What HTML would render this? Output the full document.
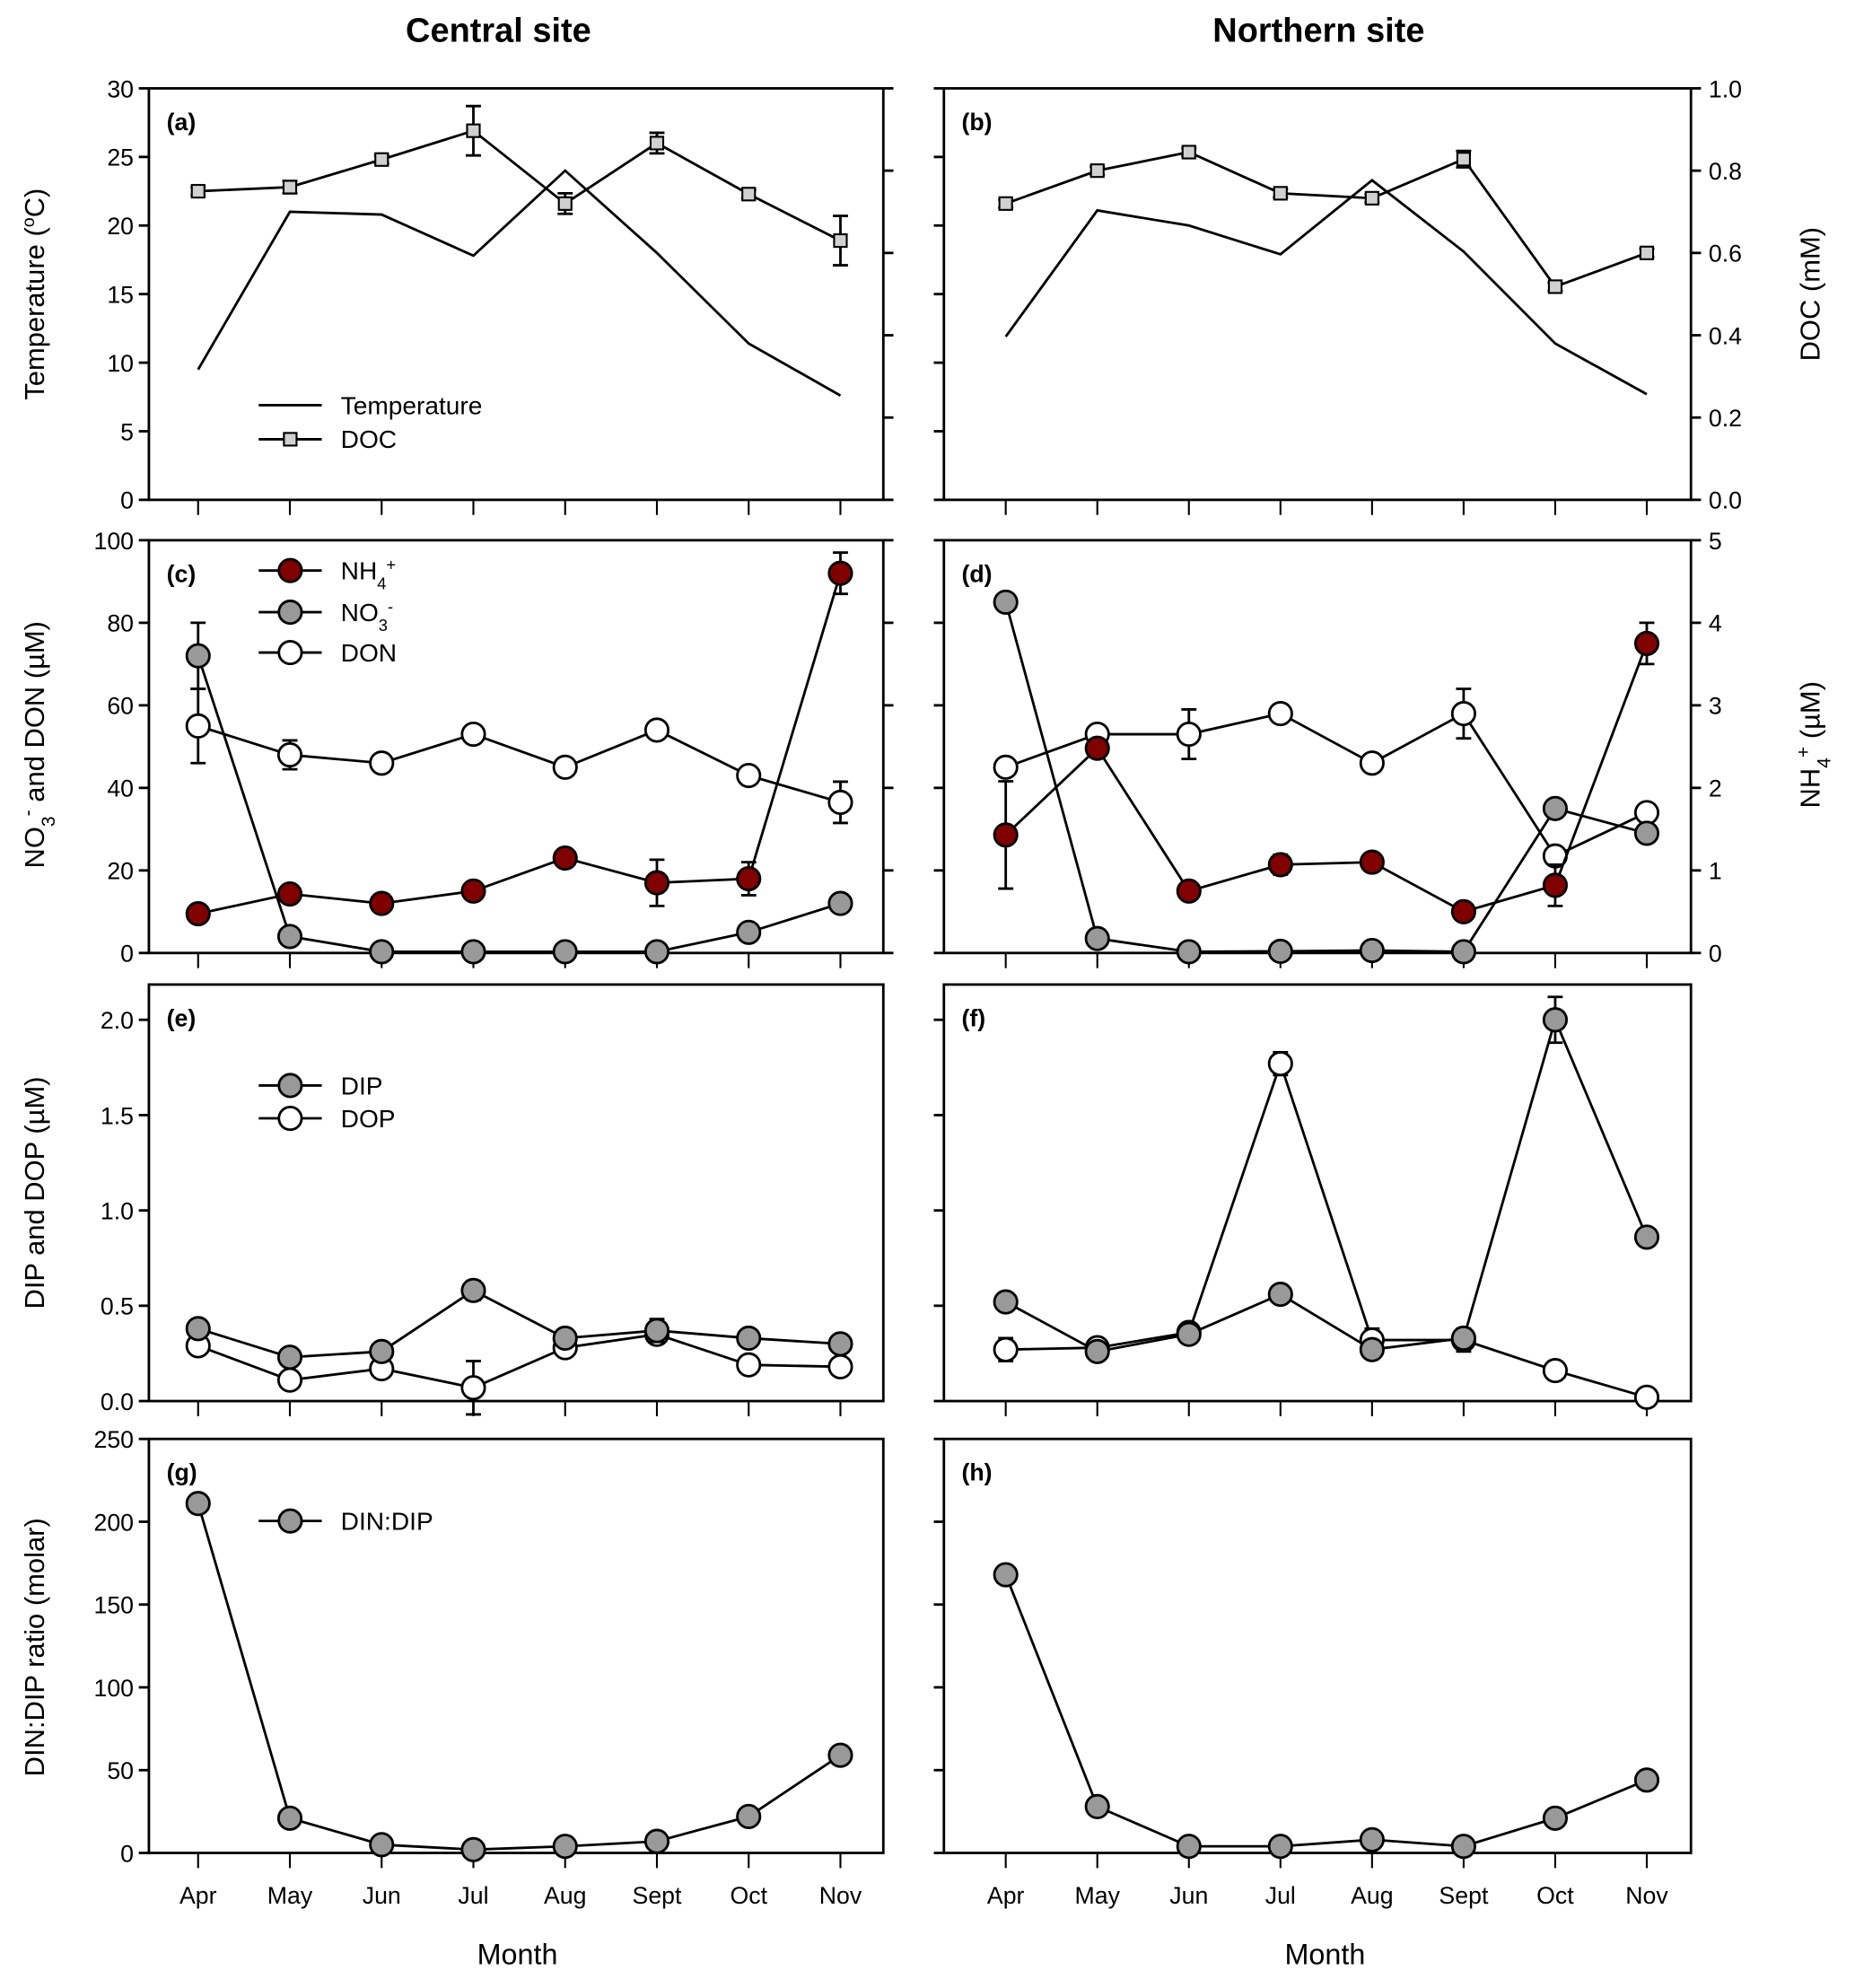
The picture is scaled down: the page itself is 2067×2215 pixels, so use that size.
<!DOCTYPE html>
<html><head><meta charset="utf-8"><style>
html,body{margin:0;padding:0;background:#fff}
svg{display:block}
text{font-family:"Liberation Sans",Arial,sans-serif;fill:#000}
</style></head><body>
<svg id="chart" width="2067" height="2215" viewBox="0 0 1470 1575" preserveAspectRatio="none" xmlns="http://www.w3.org/2000/svg"></svg>
<script>
const months = ["Apr","May","Jun","Jul","Aug","Sept","Oct","Nov"];
// panel a (central)
const tempC = [9.5,21,20.8,17.8,24,18,11.4,7.6];
const docC = [0.75,0.76,0.827,0.897,0.72,0.867,0.743,0.63];
const docCErr = [0.01,0.015,0.01,0.06,0.025,0.025,0.01,0.06];
// panel b (northern)
const tempN = [11.9,21.1,20,17.9,23.3,18.1,11.4,7.7];
const docN = [0.72,0.80,0.845,0.745,0.733,0.828,0.518,0.60];
const docNErr = [0.01,0.01,0.01,0.01,0.01,0.02,0.01,0.01];
// panel c
const nh4C = [0.475,0.715,0.6,0.75,1.15,0.85,0.9,4.6];
const nh4CErr = [0,0,0,0,0,0.28,0.2,0.25];
const no3C = [72,4,0.3,0.3,0.3,0.3,5,12];
const no3CErr = [8,0,0,0,0,0,0,0];
const donC = [55,48,46,53,45,54,43,36.5];
const donCErr = [9,3.5,0,1.5,0,0,0,5];
// panel d
const nh4N = [1.43,2.48,0.75,1.07,1.1,0.5,0.82,3.75];
const nh4NErr = [0.65,0,0,0.12,0,0,0.25,0.25];
const no3N = [85,3.5,0.3,0.4,0.6,0.3,35,29];
const donN = [45,53,53,58,46,58,23.5,34];
const donNErr = [0,0,6,0,0,6,0,0];
// panel e
const dipC = [0.38,0.23,0.26,0.58,0.33,0.37,0.33,0.30];
const dipCErr = [0,0,0,0.05,0,0.06,0,0];
const dopC = [0.29,0.11,0.17,0.07,0.28,0.35,0.19,0.18];
const dopCErr = [0,0,0,0.14,0,0.03,0,0];
// panel f
const dipN = [0.52,0.26,0.35,0.56,0.27,0.33,2.0,0.86];
const dipNErr = [0,0,0,0,0,0,0.12,0.04];
const dopN = [0.27,0.28,0.36,1.77,0.32,0.32,0.16,0.02];
const dopNErr = [0.06,0,0,0.06,0.06,0.06,0,0];
// panels g,h
const dinDipC = [211,21,5,2,4,7,22,59];
const dinDipN = [168,28,4,4,8,4,21,44];
const ticksA = [0,5,10,15,20,25,30];
const ticksDoc = [0,0.2,0.4,0.6,0.8,1.0];
const ticksC = [0,20,40,60,80,100];
const ticksNh4 = [0,1,2,3,4,5];
const ticksE = [0,0.5,1.0,1.5,2.0];
const ticksG = [0,50,100,150,200,250];

const NS="http://www.w3.org/2000/svg";
const svg=document.getElementById('chart');
function mk(tag,attrs,name,parent){
  const el=document.createElementNS(NS,tag);
  for(const k in attrs) el.setAttribute(k,attrs[k]);
  
  
  (parent||svg).appendChild(el);
  return el;
}
function txt(x,y,s,size,name,extra){
  const t=mk('text',Object.assign({x:x,y:y,'font-size':size,'text-anchor':'middle'},extra||{}),name);
  t.innerHTML=s;return t;
}
const cols={L:{x0:118,x1:700,first:157,last:666},R:{x0:748,x1:1340,first:797,last:1305}};
const rows={a:{y0:70,y1:396},c:{y0:428,y1:755},e:{y0:780,y1:1110},g:{y0:1140,y1:1468}};
function xs(col,i){const c=cols[col];return c.first+(c.last-c.first)*i/7;}
function ys(row,v,min,max){const r=rows[row];return r.y1-(v-min)/(max-min)*(r.y1-r.y0);}

function frame(col,row,pname){
  const c=cols[col],r=rows[row];
  mk('rect',{x:c.x0,y:r.y0,width:c.x1-c.x0,height:r.y1-r.y0,fill:'none',stroke:'#000','stroke-width':2},pname+'-frame');
  for(let i=0;i<8;i++) mk('line',{x1:xs(col,i),x2:xs(col,i),y1:r.y1,y2:r.y1+12,stroke:'#000','stroke-width':1.5},pname+'-x-tick');
}
function yaxis(col,row,side,ticks,min,max,labels,pname,intLabels){
  const c=cols[col];
  const x=side==='left'?c.x0:c.x1;
  const d=side==='left'?-8:8;
  ticks.forEach(v=>{
    const y=ys(row,v,min,max);
    mk('line',{x1:x,x2:x+d,y1:y,y2:y,stroke:'#000','stroke-width':2},pname+'-y-tick');
    if(labels){
      const lab=intLabels?String(v):v.toFixed(1);
      txt(side==='left'?x-12:x+14,y+7,lab,19,pname+'-y-tick-label',{'text-anchor':side==='left'?'end':'start'});
    }
  });
}
function series(col,row,vals,min,max,opts,name){
  const pts=vals.map((v,i)=>xs(col,i)+','+ys(row,v,min,max)).join(' ');
  mk('polyline',{points:pts,fill:'none',stroke:'#000','stroke-width':opts.lw||2},name+'-line');
  if(opts.err) vals.forEach((v,i)=>{
    const e=opts.err[i]; if(!e) return;
    const x=xs(col,i),ya=ys(row,v+e,min,max),yb=ys(row,v-e,min,max);
    mk('path',{d:`M${x},${ya}V${yb}M${x-6},${ya}H${x+6}M${x-6},${yb}H${x+6}`,stroke:'#000','stroke-width':2,fill:'none'},name+'-error-bar');
  });
  if(opts.marker) vals.forEach((v,i)=>{
    const x=xs(col,i),y=ys(row,v,min,max);
    if(opts.marker==='sq') mk('rect',{x:x-5,y:y-5,width:10,height:10,fill:'#d0d0d0',stroke:'#000','stroke-width':1.5},name+'-point');
    else mk('circle',{cx:x,cy:y,r:9,fill:opts.marker,stroke:'#000','stroke-width':2},name+'-point');
  });
}
function legend(x,y,label,marker,name){
  mk('line',{x1:x,x2:x+50,y1:y,y2:y,stroke:'#000','stroke-width':2},name+'-line');
  if(marker==='sq') mk('rect',{x:x+20,y:y-5,width:10,height:10,fill:'#d0d0d0',stroke:'#000','stroke-width':1.5},name+'-marker');
  else if(marker) mk('circle',{cx:x+25,cy:y,r:9,fill:marker,stroke:'#000','stroke-width':2},name+'-marker');
  txt(x+65,y+7,label,20,name+'-label',{'text-anchor':'start'});
}
function ylabel(x,y,s,name){txt(x,y,s,22,name,{transform:`rotate(-90 ${x} ${y})`});}
function plabel(col,row,s,name){txt(cols[col].x0+14,rows[row].y0+33,s,19,name,{'text-anchor':'start','font-weight':'bold'});}

txt(395,33,'Central site',27,'title-central',{'font-weight':'bold'});
txt(1045,33,'Northern site',27,'title-northern',{'font-weight':'bold'});

// a
frame('L','a','panel-a');yaxis('L','a','left',ticksA,0,30,true,'panel-a',true);
yaxis('L','a','right',ticksDoc,0,1,false,'panel-a-doc');
series('L','a',tempC,0,30,{},'temperature-central');
series('L','a',docC,0,1,{marker:'sq',err:docCErr},'doc-central');
plabel('L','a','(a)','panel-a-label');
legend(205,321,'Temperature',null,'legend-temperature');legend(205,348,'DOC','sq','legend-doc');
ylabel(35,233,'Temperature (<tspan baseline-shift="super" font-size="14">o</tspan>C)','y-axis-title-temperature');
// b
frame('R','a','panel-b');yaxis('R','a','left',ticksA,0,30,false,'panel-b');
yaxis('R','a','right',ticksDoc,0,1,true,'panel-b-doc');
series('R','a',tempN,0,30,{},'temperature-northern');
series('R','a',docN,0,1,{marker:'sq',err:docNErr},'doc-northern');
plabel('R','a','(b)','panel-b-label');
ylabel(1442,233,'DOC (mM)','y-axis-title-doc');
// c
frame('L','c','panel-c');yaxis('L','c','left',ticksC,0,100,true,'panel-c',true);
yaxis('L','c','right',ticksNh4,0,5,false,'panel-c-nh4');
series('L','c',donC,0,100,{marker:'#fff',err:donCErr},'don-central');
series('L','c',no3C,0,100,{marker:'#999',err:no3CErr},'no3-central');
series('L','c',nh4C,0,5,{marker:'#800000',err:nh4CErr},'nh4-central');
plabel('L','c','(c)','panel-c-label');
legend(205,452,'NH<tspan baseline-shift="sub" font-size="13">4</tspan><tspan baseline-shift="super" font-size="13">+</tspan>','#800000','legend-nh4');
legend(205,485,'NO<tspan baseline-shift="sub" font-size="13">3</tspan><tspan baseline-shift="super" font-size="13">-</tspan>','#999','legend-no3');
legend(205,517,'DON','#fff','legend-don');
ylabel(35,590,'NO<tspan baseline-shift="sub" font-size="15">3</tspan><tspan baseline-shift="super" font-size="15">-</tspan> and DON (µM)','y-axis-title-no3-don');
// d
frame('R','c','panel-d');yaxis('R','c','left',ticksC,0,100,false,'panel-d');
yaxis('R','c','right',ticksNh4,0,5,true,'panel-d-nh4',true);
series('R','c',donN,0,100,{marker:'#fff',err:donNErr},'don-northern');
series('R','c',no3N,0,100,{marker:'#999'},'no3-northern');
series('R','c',nh4N,0,5,{marker:'#800000',err:nh4NErr},'nh4-northern');
plabel('R','c','(d)','panel-d-label');
ylabel(1442,590,'NH<tspan baseline-shift="sub" font-size="15">4</tspan><tspan baseline-shift="super" font-size="15">+</tspan> (µM)','y-axis-title-nh4');
// e
frame('L','e','panel-e');yaxis('L','e','left',ticksE,0,2.185,true,'panel-e');
series('L','e',dopC,0,2.185,{marker:'#fff',err:dopCErr},'dop-central');
series('L','e',dipC,0,2.185,{marker:'#999',err:dipCErr},'dip-central');
plabel('L','e','(e)','panel-e-label');
legend(205,860,'DIP','#999','legend-dip');legend(205,886,'DOP','#fff','legend-dop');
ylabel(35,945,'DIP and DOP (µM)','y-axis-title-dip-dop');
// f
frame('R','e','panel-f');yaxis('R','e','left',ticksE,0,2.185,false,'panel-f');
series('R','e',dopN,0,2.185,{marker:'#fff',err:dopNErr},'dop-northern');
series('R','e',dipN,0,2.185,{marker:'#999',err:dipNErr},'dip-northern');
plabel('R','e','(f)','panel-f-label');
// g
frame('L','g','panel-g');yaxis('L','g','left',ticksG,0,250,true,'panel-g',true);
series('L','g',dinDipC,0,250,{marker:'#999'},'din-dip-central');
plabel('L','g','(g)','panel-g-label');
legend(205,1205,'DIN:DIP','#999','legend-din-dip');
ylabel(35,1305,'DIN:DIP ratio (molar)','y-axis-title-din-dip');
// h
frame('R','g','panel-h');yaxis('R','g','left',ticksG,0,250,false,'panel-h');
series('R','g',dinDipN,0,250,{marker:'#999'},'din-dip-northern');
plabel('R','g','(h)','panel-h-label');
// month labels
['L','R'].forEach(col=>{
  months.forEach((m,i)=>txt(xs(col,i),1508,m,19,'x-tick-label-'+m.toLowerCase()));
});
txt(410,1556,'Month',23,'x-axis-title-central');
txt(1050,1556,'Month',23,'x-axis-title-northern');
</script>
</body></html>
